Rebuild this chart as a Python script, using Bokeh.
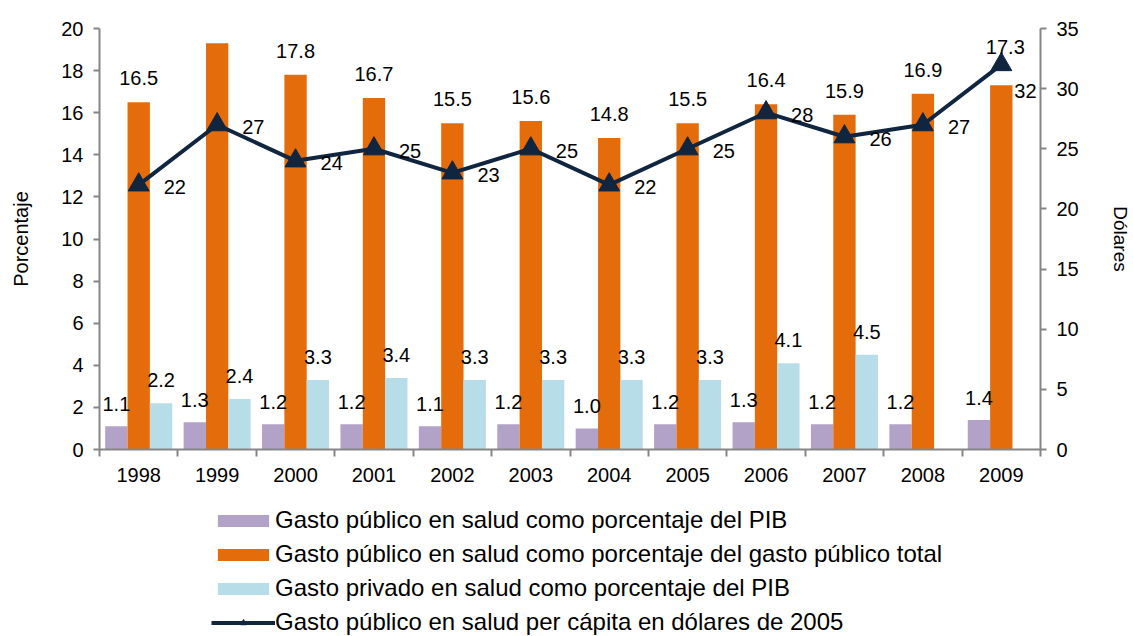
from bokeh.plotting import figure
from bokeh.layouts import column
from bokeh.models import (Range1d, LinearAxis, FixedTicker, Legend, LegendItem,
                          ColumnDataSource)
from bokeh.transform import dodge
from bokeh.embed import file_html
from bokeh.resources import INLINE
from bokeh.core.properties import value

# ---------------- data ----------------
years = ["1998", "1999", "2000", "2001", "2002", "2003", "2004", "2005",
         "2006", "2007", "2008", "2009"]
pub_pib = [1.1, 1.3, 1.2, 1.2, 1.1, 1.2, 1.0, 1.2, 1.3, 1.2, 1.2, 1.4]
pub_total = [16.5, 19.3, 17.8, 16.7, 15.5, 15.6, 14.8, 15.5, 16.4, 15.9, 16.9, 17.3]
priv_pib = [2.2, 2.4, 3.3, 3.4, 3.3, 3.3, 3.3, 3.3, 4.1, 4.5, None, None]
per_capita = [22, 27, 24, 25, 23, 25, 22, 25, 28, 26, 27, 32]

series_names = [
    "Gasto público en salud como porcentaje del PIB",
    "Gasto público en salud como porcentaje del gasto público total",
    "Gasto privado en salud como porcentaje del PIB",
    "Gasto público en salud per cápita en dólares de 2005",
]
y_left_label = "Porcentaje"
y_right_label = "Dólares"

# ---------------- style ----------------
PURPLE = "#B3A2C7"
ORANGE = "#E46C0A"
LIGHTBLUE = "#B7DEE8"
NAVY = "#10253F"
GREY = "#868686"
FONT = "Liberation Sans"
BW = 0.285
W = 1133

n = len(years)
xc = [i + 0.5 for i in range(n)]
nan = float("nan")

src = ColumnDataSource(dict(
    x=xc,
    pub_pib=pub_pib,
    pub_total=pub_total,
    priv=[nan if v is None else v for v in priv_pib],
    pc=per_capita,
    lab_pub=[f"{v:.1f}" for v in pub_pib],
    lab_tot=[f"{v:.1f}" for v in pub_total],
    lab_priv=["" if v is None else f"{v:.1f}" for v in priv_pib],
    lab_pc=[str(v) for v in per_capita],
))
src_main = ColumnDataSource({k: v[:n - 1] for k, v in src.data.items()})
src_last = ColumnDataSource({k: v[n - 1:] for k, v in src.data.items()})

p = figure(width=W, height=490, output_backend="svg", toolbar_location=None,
           x_range=Range1d(0, n), y_range=Range1d(0, 20),
           min_border_left=99, min_border_right=91, min_border_top=28,
           min_border_bottom=41)
p.extra_y_ranges = {"usd": Range1d(0, 35)}
p.xgrid.visible = False
p.ygrid.visible = False
p.outline_line_color = None

# bars
p.vbar(x=dodge("x", -BW, range=p.x_range), top="pub_pib", width=BW,
       source=src, fill_color=PURPLE, line_color=None)
p.vbar(x="x", top="pub_total", width=BW, source=src,
       fill_color=ORANGE, line_color=None)
p.vbar(x=dodge("x", BW, range=p.x_range), top="priv", width=BW,
       source=src, fill_color=LIGHTBLUE, line_color=None)

# line
p.line(x="x", y="pc", source=src, y_range_name="usd",
       line_color=NAVY, line_width=4)
p.scatter(x="x", y="pc", source=src, y_range_name="usd", marker="triangle",
          size=21, fill_color=NAVY, line_color=NAVY)

# data labels
lab_kw = dict(text_font=value(FONT), text_font_size="20px", text_color="black",
              text_baseline="middle")
p.text(x=dodge("x", -BW, range=p.x_range), y="pub_pib", text="lab_pub", source=src,
       text_align="center", y_offset=-22, **lab_kw)
p.text(x=dodge("x", BW, range=p.x_range), y="priv", text="lab_priv", source=src,
       text_align="center", y_offset=-23, **lab_kw)
p.text(x="x", y="pub_total", text="lab_tot", source=src_main,
       text_align="center", y_offset=-24, **lab_kw)
p.text(x="x", y="pub_total", text="lab_tot", source=src_last,
       text_align="center", y_offset=-38, x_offset=4, **lab_kw)
p.text(x="x", y="pc", text="lab_pc", source=src_main, y_range_name="usd",
       text_align="left", x_offset=25, y_offset=2, **lab_kw)
p.text(x="x", y="pc", text="lab_pc", source=src_last, y_range_name="usd",
       text_align="left", x_offset=13, y_offset=26, **lab_kw)

# axes
ax = p.xaxis[0]
ax.ticker = FixedTicker(ticks=xc, minor_ticks=list(range(n + 1)))
ax.major_label_overrides = {xv: y for xv, y in zip(xc, years)}
ax.major_tick_out = 0
ax.major_tick_in = 0
ax.minor_tick_out = 7
ax.minor_tick_in = 0
ax.minor_tick_line_color = GREY
ax.minor_tick_line_width = 2
ax.axis_line_color = GREY
ax.axis_line_width = 2
ax.major_label_standoff = 11
ax.major_label_text_font = FONT
ax.major_label_text_font_size = "20px"
ax.major_label_text_color = "black"

ly = p.yaxis[0]
ly.ticker = FixedTicker(ticks=list(range(0, 21, 2)))
ly.axis_label = y_left_label
right = LinearAxis(y_range_name="usd", ticker=FixedTicker(ticks=list(range(0, 36, 5))),
                   axis_label=y_right_label)
p.add_layout(right, "right")
for a in (ly, right):
    a.axis_line_color = GREY
    a.axis_line_width = 2
    a.major_tick_line_color = GREY
    a.major_tick_line_width = 2
    a.major_tick_out = 6
    a.major_tick_in = 0
    a.minor_tick_out = 0
    a.minor_tick_in = 0
    a.major_label_standoff = 10
    a.major_label_text_font = FONT
    a.major_label_text_font_size = "20px"
    a.major_label_text_color = "black"
    a.axis_label_text_font = FONT
    a.axis_label_text_font_style = "normal"
    a.axis_label_text_color = "black"
ly.axis_label_text_font_size = "20px"
right.axis_label_text_font_size = "19px"
ly.axis_label_standoff = 26
right.axis_label_standoff = 28

# ---------------- legend (separate strip below the chart) ----------------
# legend-only renderers: same series, placed far outside this strip's visible range
q = figure(width=W, height=146, output_backend="svg", toolbar_location=None,
           x_range=Range1d(1000, 1001), y_range=Range1d(1000, 1001),
           x_axis_type=None, y_axis_type=None, min_border=0)
q.outline_line_color = None
q.xgrid.visible = False
q.ygrid.visible = False
l_pub = q.vbar(x="x", top="pub_pib", width=BW, source=src,
               fill_color=PURPLE, line_color=None)
l_tot = q.vbar(x="x", top="pub_total", width=BW, source=src,
               fill_color=ORANGE, line_color=None)
l_priv = q.vbar(x="x", top="priv", width=BW, source=src,
                fill_color=LIGHTBLUE, line_color=None)
l_line = q.line(x="x", y="pc", source=src, line_color=NAVY, line_width=4)
l_tri = q.scatter(x="x", y="pc", source=src, marker="triangle", size=14,
                  fill_color=NAVY, line_color=NAVY)

legend = Legend(
    items=[
        LegendItem(label=series_names[0], renderers=[l_pub]),
        LegendItem(label=series_names[1], renderers=[l_tot]),
        LegendItem(label=series_names[2], renderers=[l_priv]),
        LegendItem(label=series_names[3], renderers=[l_line, l_tri]),
    ],
    location=(112, 0),
    orientation="vertical",
    border_line_color=None,
    background_fill_alpha=0,
    padding=0, margin=0, spacing=6,
    label_height=22, glyph_height=15, glyph_width=64, label_standoff=0,
    label_text_font=FONT, label_text_font_size="24px", label_text_color="black",
    label_text_baseline="middle",
)
q.add_layout(legend)

layout = column(p, q, spacing=0)
open("out.html", "w").write(file_html(layout, INLINE))
